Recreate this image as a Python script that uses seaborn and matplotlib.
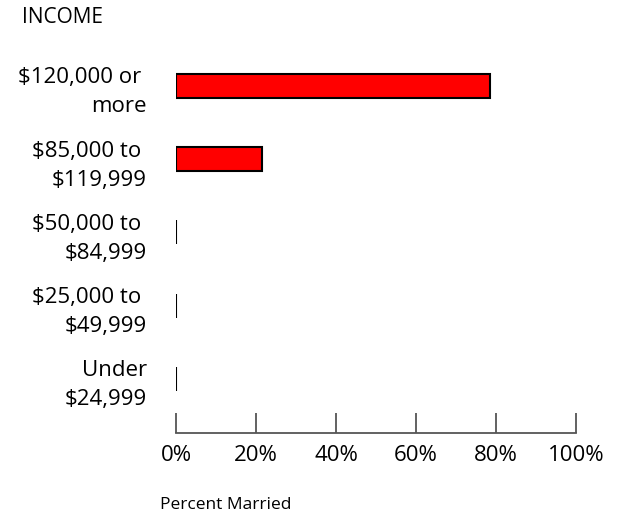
import pandas as pd
import matplotlib.pyplot as plt
import seaborn as sns

income = [
    "$120,000 or \nmore",
    "$85,000 to \n$119,999",
    "$50,000 to \n$84,999",
    "$25,000 to \n$49,999",
    "Under\n$24,999",
]
married_pct = [78.5, 21.4, 0, 0, 0]
x_ticks = [0, 20, 40, 60, 80, 100]

df = pd.DataFrame({"income": income, "married": married_pct})

sns.set_style("white")
plt.rcParams["font.family"] = ["Open Sans", "DejaVu Sans"]
plt.rcParams["text.color"] = "black"
plt.rcParams["xtick.labelcolor"] = "black"
plt.rcParams["ytick.labelcolor"] = "black"

fig = plt.figure(figsize=(6.22, 5.16), dpi=100)
ax = fig.add_axes([0.283, 0.161, 0.643, 0.758])

sns.barplot(data=df, x="married", y="income", orient="h", color="#ff0000",
            edgecolor="black", linewidth=1.5, width=0.33, saturation=1, ax=ax)

ax.set_xlim(0, 100)
ax.set_ylim(4.737, -0.6)
ax.set_xticks(x_ticks, [f"{t}%" for t in x_ticks])
ax.tick_params(axis="x", bottom=True, direction="in", length=14.5, width=1.3,
               color="#555555", pad=9, labelsize=16)
ax.tick_params(axis="y", left=False, length=0, pad=21, labelsize=16)
for lbl in ax.get_yticklabels():
    lbl.set_ha("right")
    lbl.set_multialignment("right")
    lbl.set_linespacing(1.5)
ax.set_xlabel("")
ax.set_ylabel("")

for side in ["top", "right", "left"]:
    ax.spines[side].set_visible(False)
ax.spines["bottom"].set_color("#555555")
ax.spines["bottom"].set_linewidth(1.3)

fig.text(0.035, 0.967, "INCOME", fontsize=15, va="center", ha="left")
fig.text(0.257, 0.021, "Percent Married", fontsize=12.5, va="center", ha="left")

fig.savefig("out.png", dpi=100)
